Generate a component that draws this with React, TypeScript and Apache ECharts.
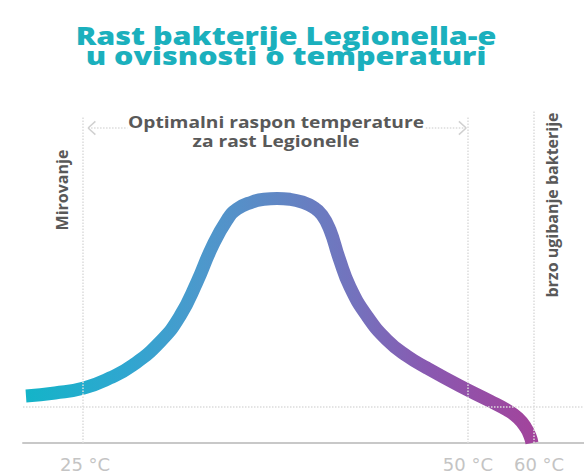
import React, { useEffect, useRef } from "react";
import * as echarts from "echarts";

const titleLines = ["Rast bakterije Legionella-e", "u ovisnosti o temperaturi"];
const rangeLabel = ["Optimalni raspon temperature", "za rast Legionelle"];
const leftLabel = "Mirovanje";
const rightLabel = "brzo ugibanje bakterije";

// tick labels and their position on the (non-linear) horizontal axis
const tickLabels = ["25 °C", "50 °C", "60 °C"];
const tickPos = [10.7, 79.3, 91.1];

// growth curve (horizontal position, relative growth)
const curveX = [0.53, 5.7, 10.87, 15.51, 19.61, 24.42, 27.99, 31.02, 33.69, 36.36, 38.15, 40.82, 42.96, 45.28, 47.59, 49.73, 51.69, 53.3, 54.72, 56.33, 58.29, 61.32, 64.88, 68.45, 72.01, 77.9, 83.24, 86.27, 88.24, 89.66, 90.37, 90.73];
const curveY = [15.67, 16.67, 18.33, 21.67, 26.0, 33.67, 42.33, 53.67, 65.33, 74.33, 78.0, 80.33, 81.23, 81.5, 81.23, 80.33, 78.67, 76.0, 71.0, 61.67, 52.0, 42.33, 34.33, 29.0, 25.0, 19.0, 14.0, 11.0, 8.33, 5.0, 2.33, 0];

const dormantLevel = 12;
const rangeStart = 11.6;
const rangeEnd = 79.0;
const rangeGapStart = 18.6;
const rangeGapEnd = 71.8;
const rangeY = 105;

export default function App() {
  const ref = useRef<HTMLDivElement>(null);
  useEffect(() => {
    if (!ref.current) return;
    const chart = echarts.init(ref.current, null, { renderer: "svg" });
    const data = curveX.map((x, i) => [x, curveY[i]]);
    const dotted = { color: "#dcdcdc", type: "dotted" as const, width: 1.5 };
    const chevron = { color: "#d0d0d0", type: "solid" as const, width: 1.5 };
    const cw = 1.3, ch = 2.2;
    const hidden = { show: false };
    chart.setOption({
      animation: false,
      grid: { left: 23, right: 0, top: 98, bottom: 31 },
      xAxis: {
        type: "value",
        min: 0,
        max: 100,
        axisLine: { show: true, lineStyle: { color: "#c8c8c8", width: 2 } },
        axisTick: { show: false },
        axisLabel: { show: false },
        splitLine: { show: false },
      },
      yAxis: {
        type: "value",
        min: 0,
        max: 115,
        show: false,
        splitLine: { show: false },
      },
      series: [
        {
          type: "line",
          data: [],
          z: 1,
          markLine: {
            silent: true,
            symbol: ["none", "none"],
            lineStyle: dotted,
            label: {
              show: true,
              position: "start",
              distance: 13,
              color: "#c4c4c4",
              fontFamily: "DejaVu Sans",
              fontSize: 18,
              lineHeight: 16,
            },
            data: [
              ...tickLabels.map((t, i) => [
                { coord: [tickPos[i], 0], label: { formatter: t, offset: i === 0 ? [2, 0] : i === 2 ? [5, 0] : [0, 0] } },
                { coord: [tickPos[i], i === 2 ? 111 : 109] },
              ]),
              [
                { coord: [0, dormantLevel], label: hidden },
                { coord: [100, dormantLevel] },
              ],
              [
                { coord: [rangeStart, rangeY], label: hidden },
                { coord: [rangeGapStart, rangeY] },
              ],
              [
                { coord: [rangeGapEnd, rangeY], label: hidden },
                { coord: [rangeEnd, rangeY] },
              ],
              [
                { coord: [rangeStart + cw, rangeY + ch], label: hidden, lineStyle: chevron },
                { coord: [rangeStart, rangeY] },
              ],
              [
                { coord: [rangeStart + cw, rangeY - ch], label: hidden, lineStyle: chevron },
                { coord: [rangeStart, rangeY] },
              ],
              [
                { coord: [rangeEnd - cw, rangeY + ch], label: hidden, lineStyle: chevron },
                { coord: [rangeEnd, rangeY] },
              ],
              [
                { coord: [rangeEnd - cw, rangeY - ch], label: hidden, lineStyle: chevron },
                { coord: [rangeEnd, rangeY] },
              ],
            ],
          },
        },
        {
          type: "line",
          data,
          z: 3,
          smooth: 0.5,
          showSymbol: false,
          lineStyle: {
            width: 13,
            cap: "butt",
            color: new echarts.graphic.LinearGradient(0, 0, 1, 0, [
              { offset: 0, color: "#14b4c8" },
              { offset: 0.2, color: "#30a6d0" },
              { offset: 0.35, color: "#4d98cc" },
              { offset: 0.5, color: "#6086c4" },
              { offset: 0.65, color: "#7472bd" },
              { offset: 0.8, color: "#8a58b0" },
              { offset: 1, color: "#a2449c" },
            ]),
          },
        },
      ],
      graphic: [
        {
          type: "text",
          x: 286,
          y: 45,
          scaleX: 1.22,
          style: {
            text: titleLines.join("\n"),
            fontFamily: "Open Sans",
            fontSize: 25,
            fontWeight: 800,
            lineHeight: 20,
            fill: "#1bb0bd",
            align: "center",
            verticalAlign: "middle",
          },
        },
        {
          type: "text",
          x: 276,
          y: 131,
          z: 10,
          scaleX: 1.2,
          style: {
            text: rangeLabel.join("\n"),
            fontFamily: "Open Sans",
            fontSize: 16,
            fontWeight: 700,
            lineHeight: 19,
            fill: "#595959",
            align: "center",
            verticalAlign: "middle",
          },
        },
        {
          type: "text",
          x: 62,
          y: 190,
          rotation: Math.PI / 2,
          style: {
            text: leftLabel,
            fontFamily: "Open Sans",
            fontSize: 16,
            fontWeight: 700,
            fill: "#595959",
            align: "center",
            verticalAlign: "middle",
          },
        },
        {
          type: "text",
          x: 552,
          y: 205,
          rotation: Math.PI / 2,
          style: {
            text: rightLabel,
            fontFamily: "Open Sans",
            fontSize: 16,
            fontWeight: 700,
            fill: "#595959",
            align: "center",
            verticalAlign: "middle",
          },
        },
      ],
    });
    return () => chart.dispose();
  }, []);
  return <div ref={ref} style={{ width: 584, height: 474, position: "absolute", left: 0, top: 0 }} />;
}
